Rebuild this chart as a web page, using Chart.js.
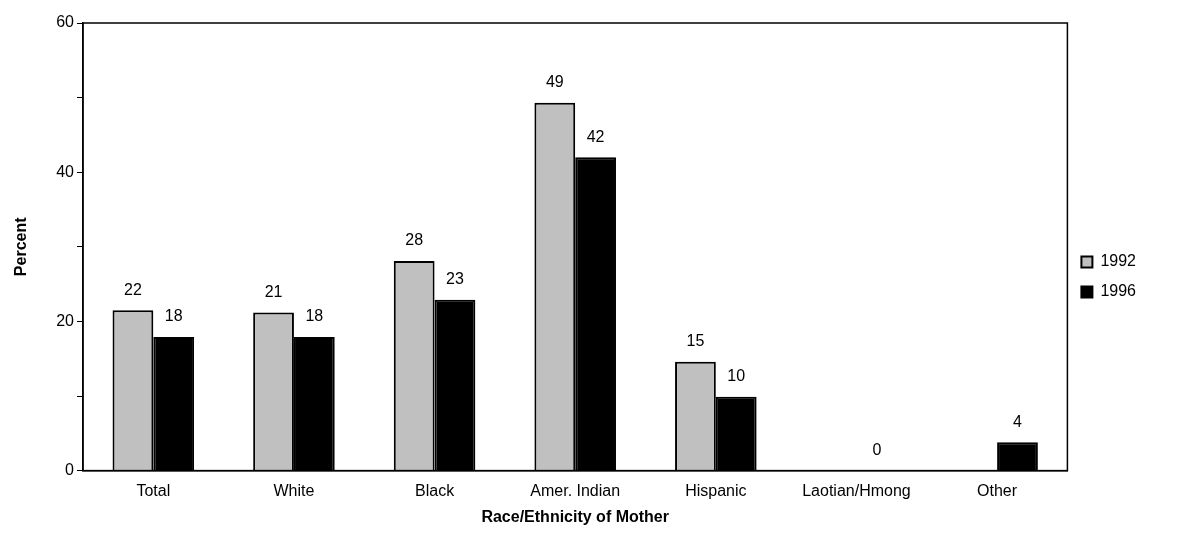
<!DOCTYPE html>
<html>
<head>
<meta charset="utf-8">
<script src="https://cdn.jsdelivr.net/npm/chart.js@4"></script>
<style>
  html, body { margin: 0; padding: 0; background: #fff; }
  #wrap { width: 1182px; height: 540px; }
</style>
</head>
<body>
<div id="wrap"><canvas id="c" width="1182" height="540"></canvas></div>
<script>
const categories = ['Total', 'White', 'Black', 'Amer. Indian', 'Hispanic', 'Laotian/Hmong', 'Other'];
const values1992 = [21.5, 21.2, 28.1, 49.3, 14.6, null, null];
const values1996 = [17.9, 17.9, 22.9, 42.0, 9.9, 0, 3.8];
const labels1992 = ['22', '21', '28', '49', '15', '', ''];
const labels1996 = ['18', '18', '23', '42', '10', '0', '4'];
const yTicks = [0, 20, 40, 60];

// draws the number above each bar
const valueLabels = {
  id: 'valueLabels',
  afterDatasetsDraw(chart) {
    const ctx = chart.ctx;
    const texts = [labels1992, labels1996];
    ctx.save();
    ctx.font = '16px "Liberation Sans", Arial, sans-serif';
    ctx.fillStyle = '#000';
    ctx.textAlign = 'center';
    ctx.textBaseline = 'bottom';
    chart.data.datasets.forEach((ds, i) => {
      chart.getDatasetMeta(i).data.forEach((bar, j) => {
        if (!texts[i][j]) return;
        ctx.fillText(texts[i][j], bar.x, bar.y - 12);
      });
    });
    ctx.restore();
  }
};

// frame around the plot area
const frame = {
  id: 'frame',
  afterDraw(chart) {
    const a = chart.chartArea, ctx = chart.ctx;
    ctx.save();
    ctx.strokeStyle = '#000';
    ctx.lineWidth = 1.5;
    ctx.strokeRect(a.left, a.top, a.right - a.left, a.bottom - a.top);
    ctx.restore();
  }
};

new Chart(document.getElementById('c'), {
  type: 'bar',
  data: {
    labels: categories,
    datasets: [
      { label: '1992', data: values1992, backgroundColor: '#c0c0c0', borderColor: '#000', borderWidth: 2, borderSkipped: 'bottom' },
      { label: '1996', data: values1996, backgroundColor: '#000', borderColor: '#000', borderWidth: 2, borderSkipped: 'bottom' }
    ]
  },
  options: {
    responsive: false,
    animation: false,
    layout: { padding: { top: 23, right: 36, left: 8, bottom: 9 } },
    datasets: { bar: { categoryPercentage: 0.58, barPercentage: 1 } },
    plugins: {
      tooltip: { enabled: false },
      legend: {
        position: 'right',
        labels: {
          color: '#000', boxWidth: 11, boxHeight: 11, padding: 14,
          font: { size: 16, family: '"Liberation Sans", Arial, sans-serif' }
        }
      }
    },
    scales: {
      x: {
        grid: { display: false },
        border: { color: '#000', width: 1.5 },
        ticks: { color: '#000', font: { size: 16, family: '"Liberation Sans", Arial, sans-serif' } },
        title: { display: true, text: 'Race/Ethnicity of Mother', color: '#000', padding: { top: 4 },
          font: { size: 16, weight: 'bold', family: '"Liberation Sans", Arial, sans-serif' } }
      },
      y: {
        min: 0, max: 60,
        border: { color: '#000', width: 1.5 },
        grid: { drawOnChartArea: false, color: '#000', tickLength: 6 },
        ticks: {
          stepSize: 10, color: '#000',
          font: { size: 16, family: '"Liberation Sans", Arial, sans-serif' },
          callback: v => yTicks.includes(v) ? v : ''
        },
        title: { display: true, text: 'Percent', color: '#000', padding: { bottom: 22 },
          font: { size: 16, weight: 'bold', family: '"Liberation Sans", Arial, sans-serif' } }
      }
    }
  },
  plugins: [valueLabels, frame]
});
</script>
</body>
</html>
